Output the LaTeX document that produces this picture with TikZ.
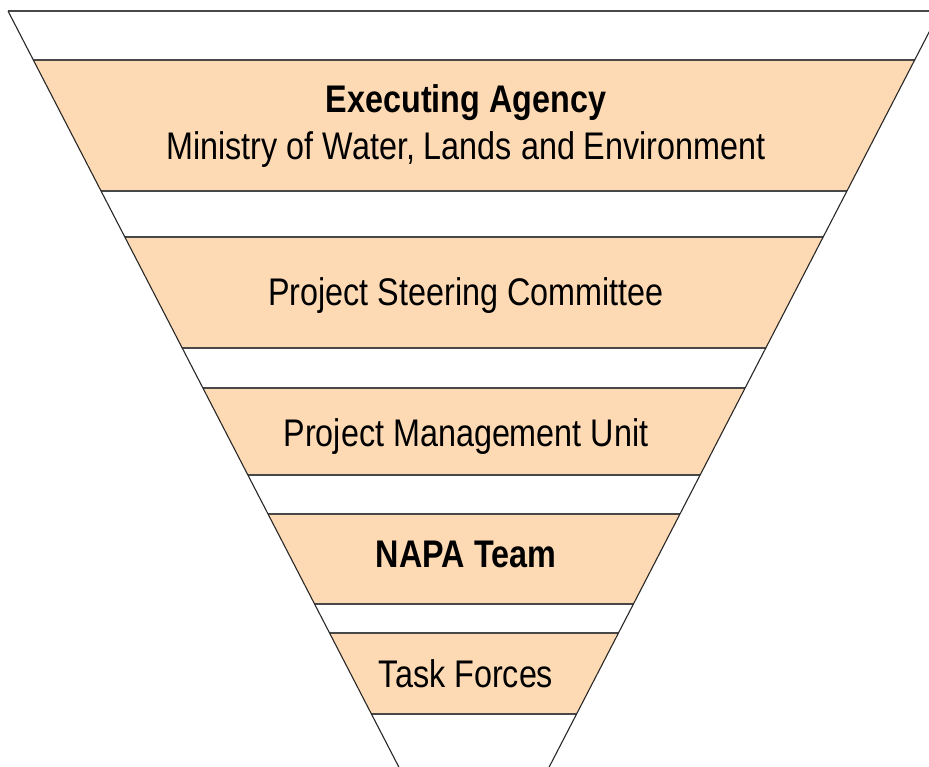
\documentclass[tikz,border=0pt]{standalone}
\usepackage{fontspec}
\setmainfont{Liberation Sans}[FakeStretch=0.84]
\definecolor{peach}{RGB}{254,218,180}
\definecolor{edge}{RGB}{40,40,40}
\begin{document}
\begin{tikzpicture}[x=1pt,y=-1pt,
  lbl/.style={anchor=base,inner sep=0pt,font=\fontsize{38.5}{42}\selectfont},
  blbl/.style={lbl,font=\fontsize{38.5}{42}\selectfont\bfseries},
  bandfill/.style={fill=peach},
  hline/.style={draw=edge!85,line width=1.1pt},
  sline/.style={draw=edge,line width=1.1pt}]
\useasboundingbox (0,0) rectangle (929,766);
\clip (0,0) rectangle (929,766);
\fill[white] (0,0) rectangle (929,766);
% bands
\foreach \a/\b in {60/191,237/348,388/475,514/604,633/714}{
  \pgfmathsetmacro{\ha}{466-0.517*(\a-11)}
  \pgfmathsetmacro{\hb}{466-0.517*(\b-11)}
  \fill[bandfill] ({474-\ha},\a) -- ({474+\ha},\a) -- ({474+\hb},\b) -- ({474-\hb},\b) -- cycle;
}
% horizontal lines
\foreach \a in {11,60,191,237,348,388,475,514,604,633,714}{
  \pgfmathsetmacro{\ha}{466-0.517*(\a-11)}
  \draw[hline] ({474-\ha},\a) -- ({474+\ha},\a);
}
% sides
\coordinate (tl) at (8,11);
\coordinate (tr) at (940,11);
\coordinate (apex) at (474,912.4);
\draw[sline] (tl) -- (apex) -- (tr);
% texts
\node[blbl] (exec) at (466,112) {Executing Agency};
\node[lbl] (min) at (466,159) {Ministry of Water, Lands and Environment};
\node[lbl] (psc) at (466,305) {Project Steering Committee};
\node[lbl] (pmu) at (466,446) {Project Management Unit};
\node[blbl] (napa) at (466,567) {NAPA Team};
\node[lbl] (tf) at (466,687) {Task Forces};
\end{tikzpicture}
\end{document}
